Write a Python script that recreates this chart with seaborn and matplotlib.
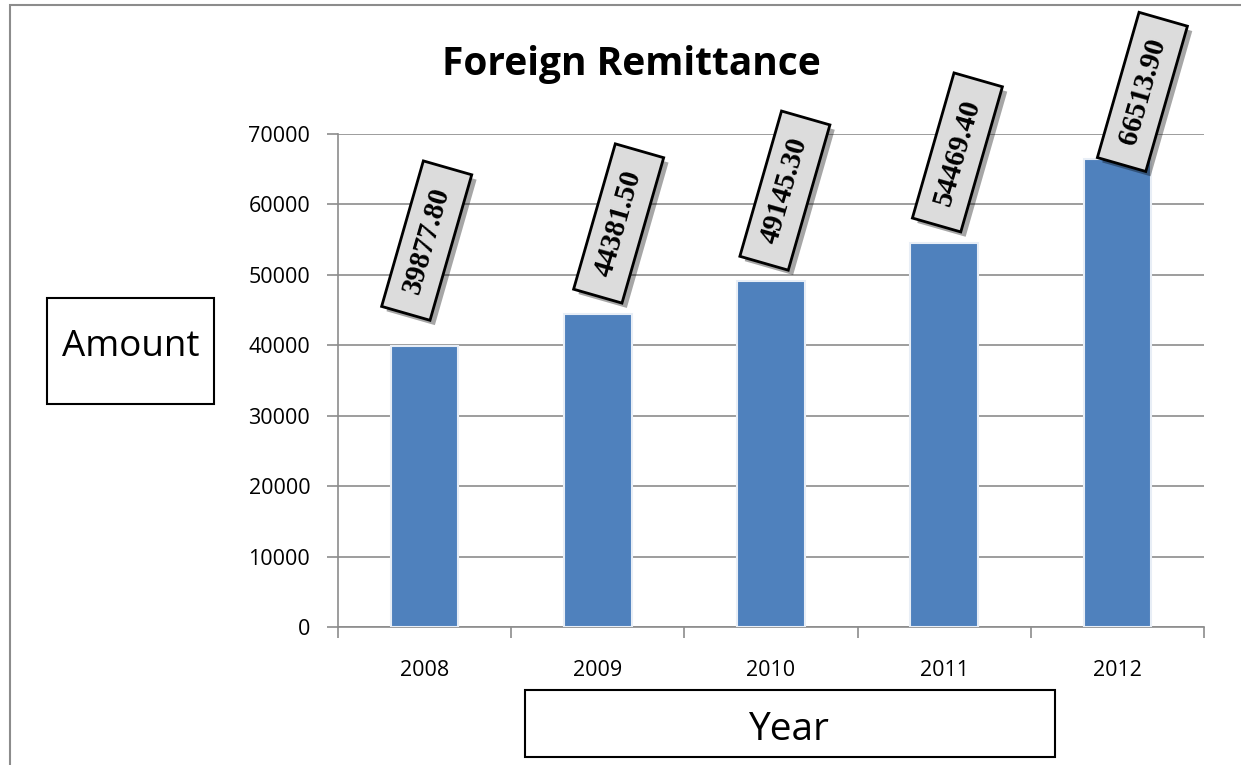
import matplotlib
matplotlib.use("Agg")
import matplotlib.pyplot as plt
import matplotlib.patches as mpatches
from matplotlib.path import Path
import seaborn as sns
import pandas as pd

years = ["2008", "2009", "2010", "2011", "2012"]
amounts = [39877.80, 44381.50, 49145.30, 54469.40, 66513.90]
label_texts = ["39877.80", "44381.50", "49145.30", "54469.40", "66513.90"]
yticks = [0, 10000, 20000, 30000, 40000, 50000, 60000, 70000]

# label placement relative to each bar top (in points): style, not data
label_dx = [1.5, 15, 10, 9.5, 18]
label_dy = [76, 65.5, 65, 65.5, 48]

sns.set_theme(style="white")
plt.rcParams['font.family'] = ['Open Sans', 'DejaVu Sans']

df = pd.DataFrame({"Year": years, "Amount": amounts})


def label_box(x0, y0, width, height, mutation_size):
    px = 0.72 * mutation_size
    py = 0.40 * mutation_size
    x0, y0 = x0 - px, y0 - py
    x1, y1 = x0 + width + 2 * px, y0 + height + 2 * py
    return Path([(x0, y0), (x1, y0), (x1, y1), (x0, y1), (x0, y0)], closed=True)


fig = plt.figure(figsize=(12.41, 7.65), dpi=100)
ax = fig.add_axes([338/1241, 1-627/765, (1204-338)/1241, (627-134)/765])

sns.barplot(data=df, x="Year", y="Amount", ax=ax, color="#4F81BD", width=0.39,
            saturation=1, edgecolor="#e8eef6", linewidth=1.5, zorder=3)

ax.set_ylim(0, 70000)
ax.set_xlim(-0.5, len(years) - 0.5)
ax.set_yticks(yticks)
ax.set_yticklabels([str(v) for v in yticks], fontsize=15.5, color="black")
ax.yaxis.grid(True, color="#8c8c8c", linewidth=1.2, zorder=0)
ax.set_axisbelow(True)

for s in ["top", "right"]:
    ax.spines[s].set_visible(False)
for s in ["left", "bottom"]:
    ax.spines[s].set_color("#8c8c8c")
    ax.spines[s].set_linewidth(1.2)

ax.tick_params(axis="y", which="major", left=True, length=8, width=1.2, color="#8c8c8c", pad=12)
ax.set_xticks(range(len(years)))
ax.set_xticklabels(years, fontsize=15.5, color="black")
ax.set_xticks([i - 0.5 for i in range(len(years) + 1)], minor=True)
ax.tick_params(axis="x", which="major", length=0, pad=24)
ax.tick_params(axis="x", which="minor", bottom=True, length=8, width=1.2, color="#8c8c8c")

ax.set_xlabel("")
ax.set_ylabel("")

# Rotated data labels with shadow
for i, (v, t) in enumerate(zip(amounts, label_texts)):
    dx, dy = label_dx[i], label_dy[i]
    ax.annotate(t, xy=(i, v), xytext=(dx + 3.5, dy - 3.5), textcoords="offset points",
                ha="center", va="center", rotation=74, fontsize=21,
                family="Liberation Serif", fontweight="bold", color=(0, 0, 0, 0),
                bbox=dict(boxstyle=label_box, facecolor=(0, 0, 0, 0.35),
                          edgecolor="none"),
                annotation_clip=False, zorder=5)
    ax.annotate(t, xy=(i, v), xytext=(dx, dy), textcoords="offset points",
                ha="center", va="center", rotation=74, fontsize=21,
                family="Liberation Serif", fontweight="bold", color="black",
                bbox=dict(boxstyle=label_box, facecolor="#dcdcdc",
                          edgecolor="black", linewidth=2),
                annotation_clip=False, zorder=6)

# Title
fig.text(631/1241, 1-64/765, "Foreign Remittance", ha="center", va="center",
         fontsize=28, fontweight="bold", color="black")

# Axis title boxes
fig.patches.append(mpatches.Rectangle((47/1241, 1-404/765), (214-47)/1241, (404-298)/765,
                                      transform=fig.transFigure, fill=False,
                                      edgecolor="black", linewidth=1.5))
fig.text(131/1241, 1-347/765, "Amount", ha="center", va="center", fontsize=26.5, color="black")

fig.patches.append(mpatches.Rectangle((525/1241, 1-757/765), (1055-525)/1241, (757-690)/765,
                                      transform=fig.transFigure, fill=False,
                                      edgecolor="black", linewidth=1.5))
fig.text(788/1241, 1-730/765, "Year", ha="center", va="center", fontsize=28, color="black")

# Outer chart border
fig.patches.append(mpatches.Rectangle((10/1241, -0.05), 1.2, (1-5/765) + 0.05,
                                      transform=fig.transFigure, fill=False,
                                      edgecolor="#8c8c8c", linewidth=1.5))

fig.savefig("out.png", dpi=100)
